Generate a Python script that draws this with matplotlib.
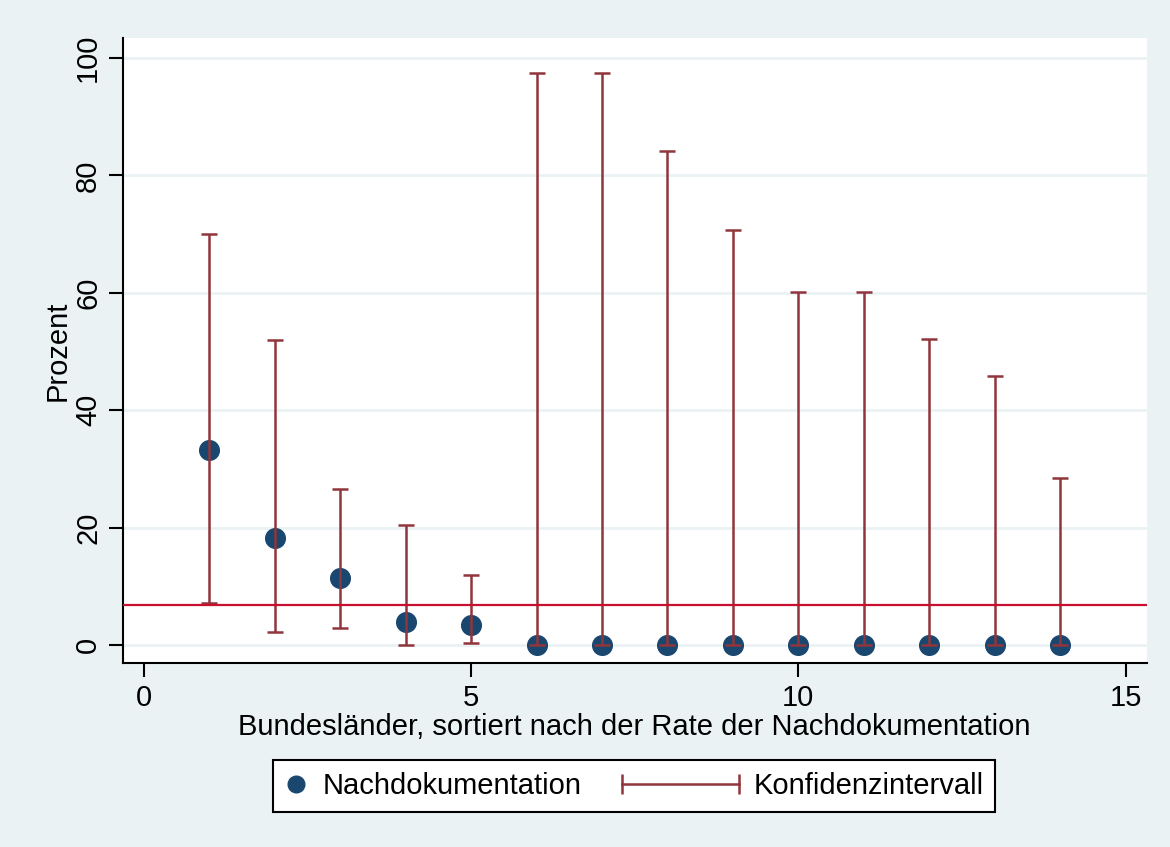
import matplotlib
matplotlib.use("Agg")
import matplotlib.pyplot as plt
from matplotlib.lines import Line2D
from matplotlib.legend_handler import HandlerBase, HandlerLine2D
import numpy as np

plt.rcParams['font.family'] = ['Liberation Sans', 'DejaVu Sans']

# Bundeslaender, sorted by rate
laender = np.arange(1, 15)
rate = np.array([33.3, 18.2, 11.4, 4.0, 3.5, 0, 0, 0, 0, 0, 0, 0, 0, 0])
ci_low = np.array([7.2, 2.2, 3.0, 0.0, 0.4, 0, 0, 0, 0, 0, 0, 0, 0, 0])
ci_high = np.array([70.1, 51.9, 26.6, 20.4, 11.9, 97.4, 97.4, 84.2, 70.7, 60.1, 60.1, 52.2, 45.8, 28.4])
gesamt = 6.8

xticks = [0, 5, 10, 15]
yticks = [0, 20, 40, 60, 80, 100]

bg = '#EAF2F3'
navy = '#1A476F'
maroon = '#90353B'
red = '#C8102E'
fs = 21


class HandlerCap(HandlerBase):
    # line with caps that reaches back to the left of the handle box
    def create_artists(self, legend, orig_handle, xdescent, ydescent,
                       width, height, fontsize, trans):
        y = height / 2 - ydescent
        x0 = -xdescent - 4.0 * width
        x1 = -xdescent + width
        line = Line2D([x0, x1], [y, y], color=maroon, lw=1.8,
                      marker='|', markersize=14, markeredgewidth=1.8)
        line.set_transform(trans)
        return [line]


fig = plt.figure(figsize=(11.7, 8.47), dpi=100, facecolor=bg)
ax = fig.add_axes([0.105, 0.217, 0.875, 0.738])
ax.set_facecolor('white')

ax.scatter(laender, rate, s=200, color=navy, zorder=2)
ax.errorbar(laender, rate, yerr=[rate - ci_low, ci_high - rate], fmt='none',
            ecolor=maroon, elinewidth=1.8, capsize=6, capthick=1.8, zorder=3)
ax.axhline(gesamt, color=red, lw=1.6, zorder=4)

ax.set_xlim(-0.32, 15.32)
ax.set_ylim(-3.07, 103.4)
ax.set_xticks(xticks)
ax.set_yticks(yticks)
ax.grid(axis='y', color=bg, lw=2)
ax.set_axisbelow(True)

for s in ['top', 'right']:
    ax.spines[s].set_visible(False)
for s in ['left', 'bottom']:
    ax.spines[s].set_linewidth(1.5)
ax.tick_params(length=10, width=1.5, labelsize=fs, pad=5)
plt.setp(ax.get_yticklabels(), rotation=90, va='center')

ax.set_xlabel('Bundesländer, sortiert nach der Rate der Nachdokumentation', fontsize=fs, labelpad=1)
ax.set_ylabel('Prozent', fontsize=fs)
ax.yaxis.set_label_coords(-0.05, 0.5)

h_pt = Line2D([], [], color=navy, marker='o', ls='none', markersize=12)
h_ci = Line2D([], [], color=maroon)
leg = fig.legend([h_pt, h_ci], ['Nachdokumentation', 'Konfidenzintervall'],
                 loc='center', bbox_to_anchor=(0.542, 0.072), ncol=2, fontsize=fs,
                 handlelength=0.8, handletextpad=0.5, columnspacing=4.6,
                 borderpad=0.4, fancybox=False, framealpha=1,
                 edgecolor='black',
                 handler_map={h_pt: HandlerLine2D(numpoints=1), h_ci: HandlerCap()})
leg.get_frame().set_linewidth(1.5)

fig.savefig('out.png', dpi=100, facecolor=bg)
